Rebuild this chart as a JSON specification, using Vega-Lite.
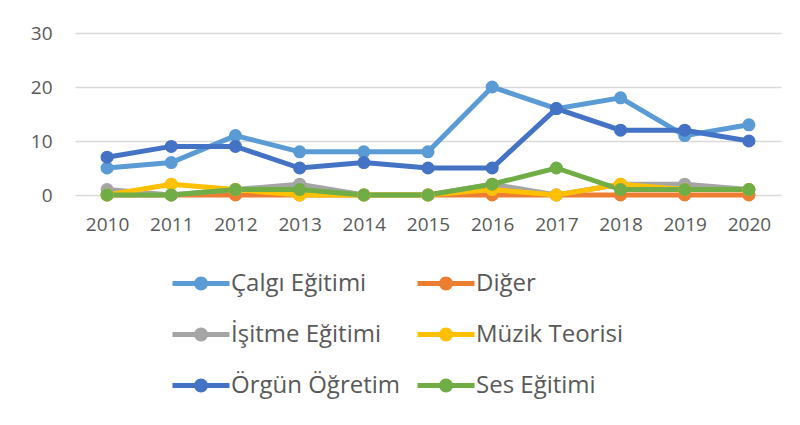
{
  "$schema": "https://vega.github.io/schema/vega-lite/v6.json",
  "autosize": "none",
  "width": 706,
  "height": 162,
  "padding": {"left": 75, "top": 33, "right": 19, "bottom": 230},
  "background": "white",
  "config": {
    "font": "Open Sans",
    "view": {"stroke": null},
    "axis": {"labelFont": "Open Sans", "labelColor": "#595959", "labelFontSize": 19, "title": null}
  },
  "data": {
    "values": [
      {"year": "2010", "series": "Çalgı Eğitimi", "value": 5},
      {"year": "2011", "series": "Çalgı Eğitimi", "value": 6},
      {"year": "2012", "series": "Çalgı Eğitimi", "value": 11},
      {"year": "2013", "series": "Çalgı Eğitimi", "value": 8},
      {"year": "2014", "series": "Çalgı Eğitimi", "value": 8},
      {"year": "2015", "series": "Çalgı Eğitimi", "value": 8},
      {"year": "2016", "series": "Çalgı Eğitimi", "value": 20},
      {"year": "2017", "series": "Çalgı Eğitimi", "value": 16},
      {"year": "2018", "series": "Çalgı Eğitimi", "value": 18},
      {"year": "2019", "series": "Çalgı Eğitimi", "value": 11},
      {"year": "2020", "series": "Çalgı Eğitimi", "value": 13},
      {"year": "2010", "series": "Diğer", "value": 0},
      {"year": "2011", "series": "Diğer", "value": 0},
      {"year": "2012", "series": "Diğer", "value": 0},
      {"year": "2013", "series": "Diğer", "value": 0},
      {"year": "2014", "series": "Diğer", "value": 0},
      {"year": "2015", "series": "Diğer", "value": 0},
      {"year": "2016", "series": "Diğer", "value": 0},
      {"year": "2017", "series": "Diğer", "value": 0},
      {"year": "2018", "series": "Diğer", "value": 0},
      {"year": "2019", "series": "Diğer", "value": 0},
      {"year": "2020", "series": "Diğer", "value": 0},
      {"year": "2010", "series": "İşitme Eğitimi", "value": 1},
      {"year": "2011", "series": "İşitme Eğitimi", "value": 0},
      {"year": "2012", "series": "İşitme Eğitimi", "value": 1},
      {"year": "2013", "series": "İşitme Eğitimi", "value": 2},
      {"year": "2014", "series": "İşitme Eğitimi", "value": 0},
      {"year": "2015", "series": "İşitme Eğitimi", "value": 0},
      {"year": "2016", "series": "İşitme Eğitimi", "value": 2},
      {"year": "2017", "series": "İşitme Eğitimi", "value": 0},
      {"year": "2018", "series": "İşitme Eğitimi", "value": 2},
      {"year": "2019", "series": "İşitme Eğitimi", "value": 2},
      {"year": "2020", "series": "İşitme Eğitimi", "value": 1},
      {"year": "2010", "series": "Müzik Teorisi", "value": 0},
      {"year": "2011", "series": "Müzik Teorisi", "value": 2},
      {"year": "2012", "series": "Müzik Teorisi", "value": 1},
      {"year": "2013", "series": "Müzik Teorisi", "value": 0},
      {"year": "2014", "series": "Müzik Teorisi", "value": 0},
      {"year": "2015", "series": "Müzik Teorisi", "value": 0},
      {"year": "2016", "series": "Müzik Teorisi", "value": 1},
      {"year": "2017", "series": "Müzik Teorisi", "value": 0},
      {"year": "2018", "series": "Müzik Teorisi", "value": 2},
      {"year": "2019", "series": "Müzik Teorisi", "value": 1},
      {"year": "2020", "series": "Müzik Teorisi", "value": 1},
      {"year": "2010", "series": "Örgün Öğretim", "value": 7},
      {"year": "2011", "series": "Örgün Öğretim", "value": 9},
      {"year": "2012", "series": "Örgün Öğretim", "value": 9},
      {"year": "2013", "series": "Örgün Öğretim", "value": 5},
      {"year": "2014", "series": "Örgün Öğretim", "value": 6},
      {"year": "2015", "series": "Örgün Öğretim", "value": 5},
      {"year": "2016", "series": "Örgün Öğretim", "value": 5},
      {"year": "2017", "series": "Örgün Öğretim", "value": 16},
      {"year": "2018", "series": "Örgün Öğretim", "value": 12},
      {"year": "2019", "series": "Örgün Öğretim", "value": 12},
      {"year": "2020", "series": "Örgün Öğretim", "value": 10},
      {"year": "2010", "series": "Ses Eğitimi", "value": 0},
      {"year": "2011", "series": "Ses Eğitimi", "value": 0},
      {"year": "2012", "series": "Ses Eğitimi", "value": 1},
      {"year": "2013", "series": "Ses Eğitimi", "value": 1},
      {"year": "2014", "series": "Ses Eğitimi", "value": 0},
      {"year": "2015", "series": "Ses Eğitimi", "value": 0},
      {"year": "2016", "series": "Ses Eğitimi", "value": 2},
      {"year": "2017", "series": "Ses Eğitimi", "value": 5},
      {"year": "2018", "series": "Ses Eğitimi", "value": 1},
      {"year": "2019", "series": "Ses Eğitimi", "value": 1},
      {"year": "2020", "series": "Ses Eğitimi", "value": 1}
    ]
  },
  "encoding": {
    "x": {
      "field": "year", "type": "ordinal",
      "scale": {"type": "point", "padding": 0.5},
      "axis": {"labelAngle": 0, "ticks": false, "domain": false, "grid": false, "labelPadding": 20}
    },
    "y": {
      "field": "value", "type": "quantitative",
      "scale": {"domain": [0, 30], "nice": false},
      "axis": {"values": [0, 10, 20, 30], "ticks": false, "domain": false, "gridColor": "#d9d9d9", "gridWidth": 1.5, "labelPadding": 23}
    },
    "color": {
      "field": "series", "type": "nominal",
      "scale": {
        "domain": ["Çalgı Eğitimi", "Diğer", "İşitme Eğitimi", "Müzik Teorisi", "Örgün Öğretim", "Ses Eğitimi"],
        "range": ["#5B9BD5", "#ED7D31", "#A5A5A5", "#FFC000", "#4472C4", "#70AD47"]
      },
      "legend": {
        "title": null,
        "orient": "none",
        "direction": "horizontal",
        "legendX": 113.5,
        "legendY": 238,
        "columns": 2,
        "padding": 0,
        "columnPadding": 7,
        "rowPadding": 22,
        "labelFont": "Open Sans",
        "labelFontSize": 24,
        "labelLimit": 400,
        "labelColor": "#595959",
        "labelOffset": 17.5,
        "symbolType": "M-2.85,0L2.85,0M-0.45,0A0.45,0.45,0,1,1,0.45,0A0.45,0.45,0,1,1,-0.45,0Z",
        "symbolSize": 400,
        "symbolStrokeWidth": 5,
        "symbolOpacity": 1
      }
    }
  },
  "layer": [
    {"mark": {"type": "line", "strokeWidth": 5}},
    {"mark": {"type": "point", "filled": true, "opacity": 1, "size": 170}}
  ]
}
